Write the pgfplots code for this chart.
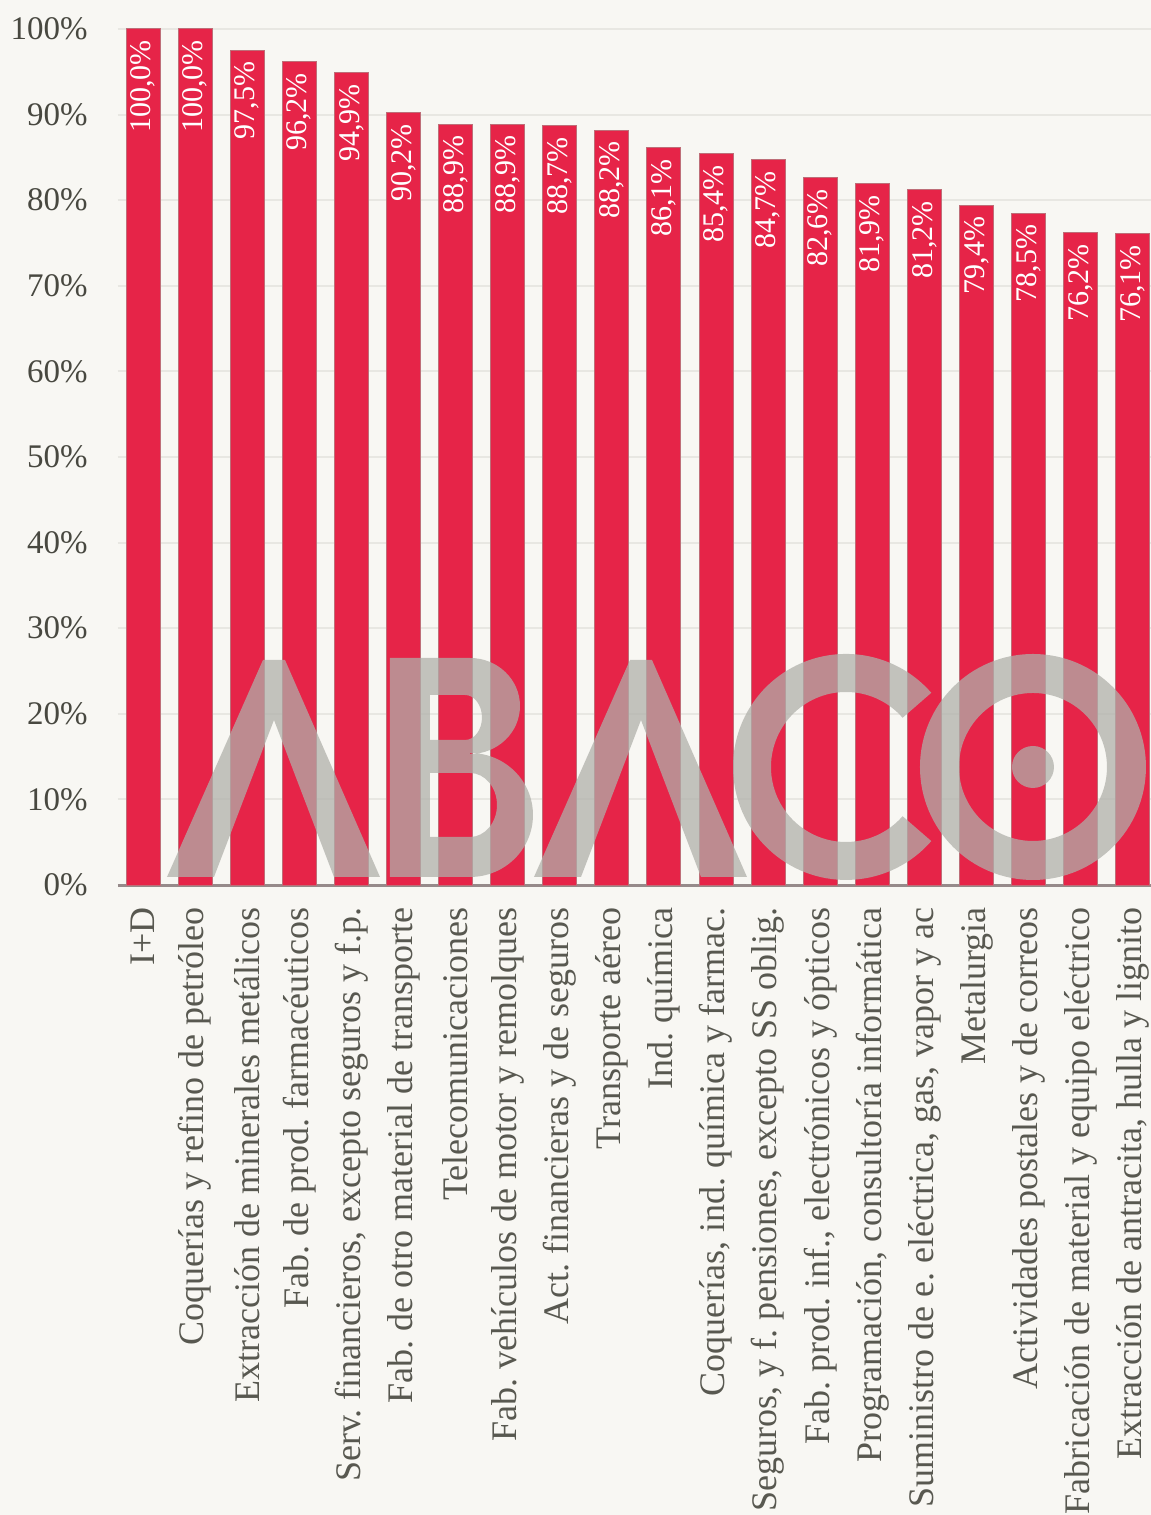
\documentclass[border=0pt]{standalone}
\usepackage{fontspec}
\setmainfont{Liberation Serif}
\usepackage{pgfplots}
\pgfplotsset{compat=1.18}
\frenchspacing
\definecolor{bg}{RGB}{248,247,243}
\definecolor{barred}{RGB}{230,36,72}
\definecolor{baredge}{RGB}{190,110,120}
\definecolor{gridc}{RGB}{232,231,226}
\definecolor{tickc}{RGB}{72,72,64}
\definecolor{labc}{RGB}{88,88,80}
\definecolor{axc}{RGB}{150,138,138}
\definecolor{wm}{RGB}{176,176,170}
\begin{document}
\frenchspacing
\begin{tikzpicture}
\path[use as bounding box, fill=bg] (-59bp,-315bp) rectangle (516.5bp,442.5bp);
\begin{axis}[
  at={(0,0)}, anchor=south west,
  width=516.5bp, height=428bp, scale only axis,
  xmin=-0.48, xmax=19.35, ymin=0, ymax=100,
  ybar, bar width=17bp,
  axis x line*=bottom, axis y line*=left,
  x axis line style={axc, line width=1.5bp, -},
  y axis line style={draw=none},
  ymajorgrids, grid style={gridc, line width=1bp},
  major tick length=0pt,
  ytick={0,10,20,30,40,50,60,70,80,90,100},
  yticklabels={0\%,10\%,20\%,30\%,40\%,50\%,60\%,70\%,80\%,90\%,100\%},
  yticklabel style={anchor=east, inner sep=0pt, text=tickc, font=\fontsize{16.5bp}{18bp}\selectfont},
  yticklabel shift=15bp,
  xtick={0,...,19},
  xticklabels={{I+D},{Coquerías y refino de petróleo},{Extracción de minerales metálicos},{Fab. de prod. farmacéuticos},{Serv. financieros, excepto seguros y f.p.},{Fab. de otro material de transporte},{Telecomunicaciones},{Fab. vehículos de motor y remolques},{Act. financieras y de seguros},{Transporte aéreo},{Ind. química},{Coquerías, ind. química y farmac.},{Seguros, y f. pensiones, excepto SS oblig.},{Fab. prod. inf., electrónicos y ópticos},{Programación, consultoría informática},{Suministro de e. eléctrica, gas, vapor y ac},{Metalurgia},{Actividades postales y de correos},{Fabricación de material y equipo eléctrico},{Extracción de antracita, hulla y lignito}},
  xticklabel style={rotate=90, anchor=east, inner sep=0pt, text=labc, font=\fontsize{18bp}{20bp}\selectfont\frenchspacing},
  xticklabel shift=11bp,
  nodes near coords={\pgfmathprintnumber[fixed,fixed zerofill,precision=1,use comma,assume math mode=true]{\pgfplotspointmeta}\%},
  every node near coord/.append style={rotate=90, anchor=east, inner xsep=5.5bp, inner ysep=0pt, text=white, font=\fontsize{15bp}{17bp}\selectfont},
]
\addplot[fill=barred, draw=baredge, line width=0.5bp] coordinates {
(0,100.0) (1,100.0) (2,97.5) (3,96.2) (4,94.9) (5,90.2) (6,88.9) (7,88.9) (8,88.7) (9,88.2)
(10,86.1) (11,85.4) (12,84.7) (13,82.6) (14,81.9) (15,81.2) (16,79.4) (17,78.5) (18,76.2) (19,76.1)};
\end{axis}
\begin{scope}[x=0.5bp,y=-0.5bp,shift={(-59bp,442.5bp)}]
\begin{scope}[transparency group, opacity=0.74]
\fill[wm] (167,877) -- (263,660) -- (285,660) -- (380,877) -- (334,877) -- (274,720) -- (214,877) -- cycle;
\fill[wm, even odd rule] (390,658) -- (470,658) arc[start angle=-90,end angle=90,x radius=50,y radius=48] -- (470,753) arc[start angle=-90,end angle=90,x radius=63,y radius=62] -- (390,877) -- cycle
  (430,695) -- (465,695) arc[start angle=-90,end angle=90,x radius=17,y radius=22.5] -- (430,740) -- cycle
  (430,773) -- (470,773) arc[start angle=-90,end angle=90,x radius=27,y radius=32] -- (430,837) -- cycle;
\fill[wm] (534,877) -- (630,660) -- (652,660) -- (747,877) -- (701,877) -- (641,720) -- (581,877) -- cycle;
\fill[wm] (931.3,841.1) arc[start angle=41,end angle=319,radius=113] -- (902.6,717.8) arc[start angle=319,end angle=41,radius=75] -- cycle;
\fill[wm, even odd rule] (1033,767) circle[radius=113] (1033,767) circle[radius=74];
\fill[wm] (1033,767) circle[radius=21];
\end{scope}
\end{scope}
\end{tikzpicture}
\end{document}
